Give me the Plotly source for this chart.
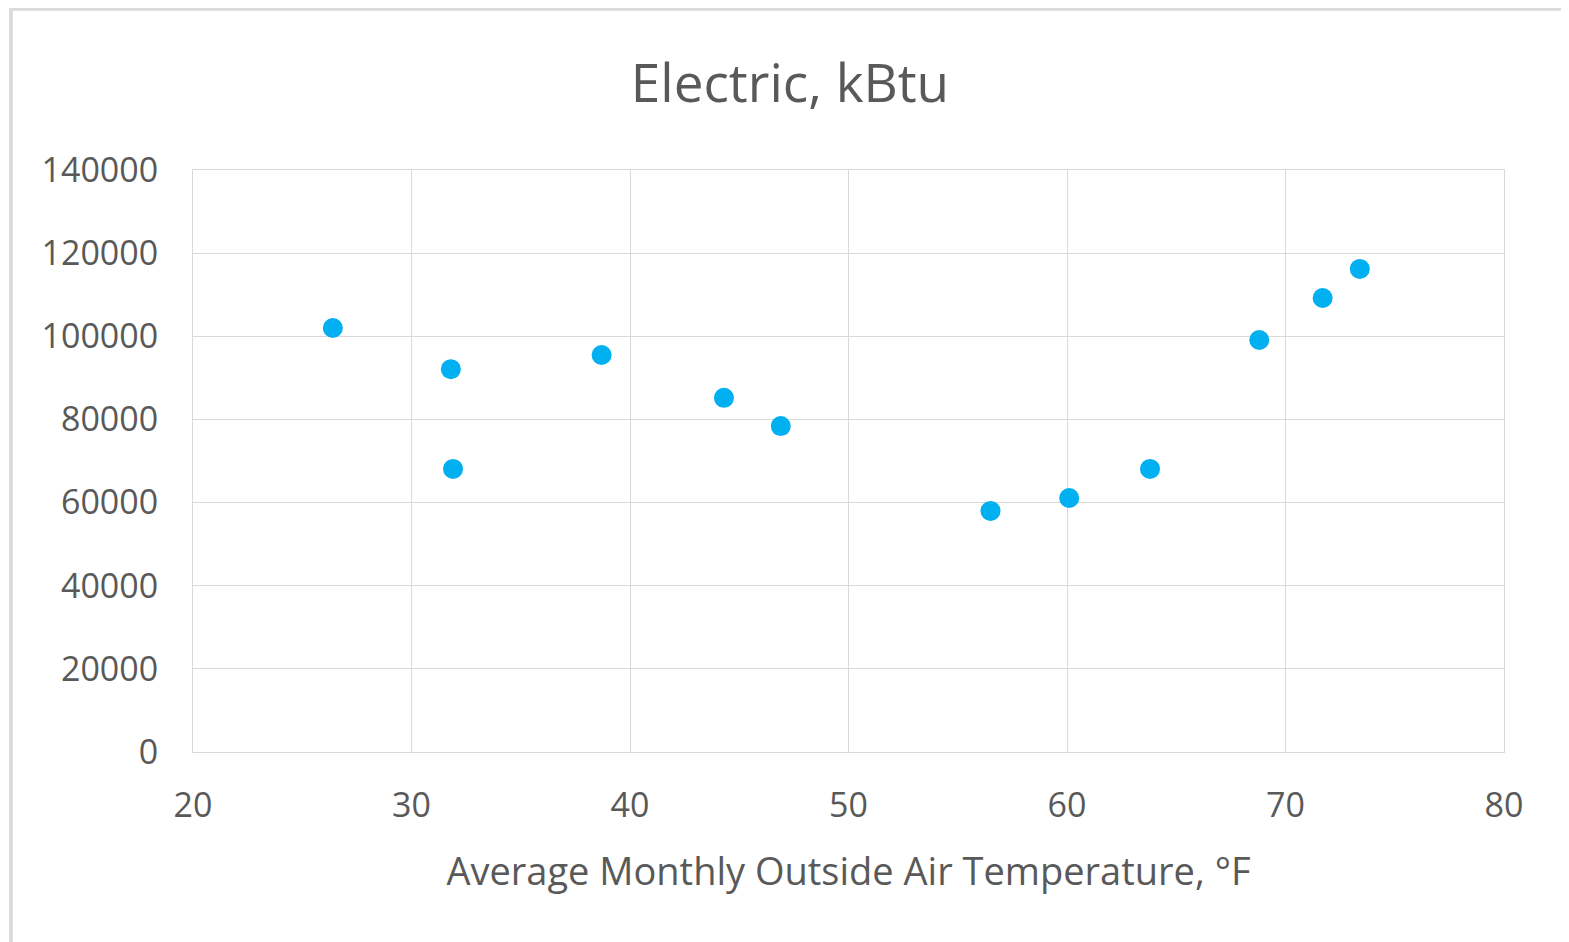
import plotly.graph_objects as go

temps = [26.4, 31.8, 31.9, 38.7, 44.3, 46.9, 56.5, 60.1, 63.8, 68.8, 71.7, 73.4]
electric_kbtu = [102000, 92100, 68100, 95500, 85200, 78400, 58000, 61100, 68100, 99100, 109200, 116200]

x_ticks = [20, 30, 40, 50, 60, 70, 80]
y_ticks = [0, 20000, 40000, 60000, 80000, 100000, 120000, 140000]

OFF = 7  # page body offset
W, H = 1569 - OFF, 942 - OFF
L, R, T, B = 192 - OFF, 66, 169 - OFF, 191
pw, ph = W - L - R, H - T - B

font_family = "Open Sans, Noto Sans, sans-serif"
txt = "#595959"
grid = "#d9d9d9"

fig = go.Figure()
fig.add_trace(go.Scatter(
    x=temps, y=electric_kbtu, mode="markers",
    marker=dict(size=20, color="#00B0F0", line=dict(width=0)),
    showlegend=False,
))

fig.update_layout(
    width=W, height=H,
    margin=dict(l=L, r=R, t=T, b=B),
    paper_bgcolor="white", plot_bgcolor="white",
    font=dict(family=font_family, color=txt),
    title=dict(text="Electric, kBtu", x=(789 - OFF - L) / pw, xref="paper", xanchor="center",
               y=1 - (82 - OFF) / H, yref="container", yanchor="middle",
               font=dict(size=53, color=txt, family=font_family)),
    xaxis=dict(range=[20, 80], tickvals=x_ticks, showgrid=True, gridcolor=grid, gridwidth=1,
               zeroline=False, showline=True, linecolor=grid, linewidth=1, mirror=True,
               ticks="", ticklabelstandoff=23,
               tickfont=dict(size=34, color=txt),
               title=dict(text="Average Monthly Outside Air Temperature, °F",
                          font=dict(size=38, color=txt), standoff=32)),
    yaxis=dict(range=[0, 140000], tickvals=y_ticks, showgrid=True, gridcolor=grid, gridwidth=1,
               zeroline=False, showline=True, linecolor=grid, linewidth=1, mirror=True,
               ticks="", ticklabelstandoff=27, tickformat="d",
               tickfont=dict(size=34, color=txt)),
)

# chart frame
fig.add_shape(type="rect", xref="paper", yref="paper",
              x0=(10 - OFF - L) / pw, x1=(W + 20 - L) / pw,
              y0=-(H + 20 - T - ph) / ph, y1=1 + (T - (8 - OFF)) / ph,
              line=dict(color="#d9d9d9", width=3.5), fillcolor="rgba(0,0,0,0)", layer="below")

fig.write_html("out.html")
